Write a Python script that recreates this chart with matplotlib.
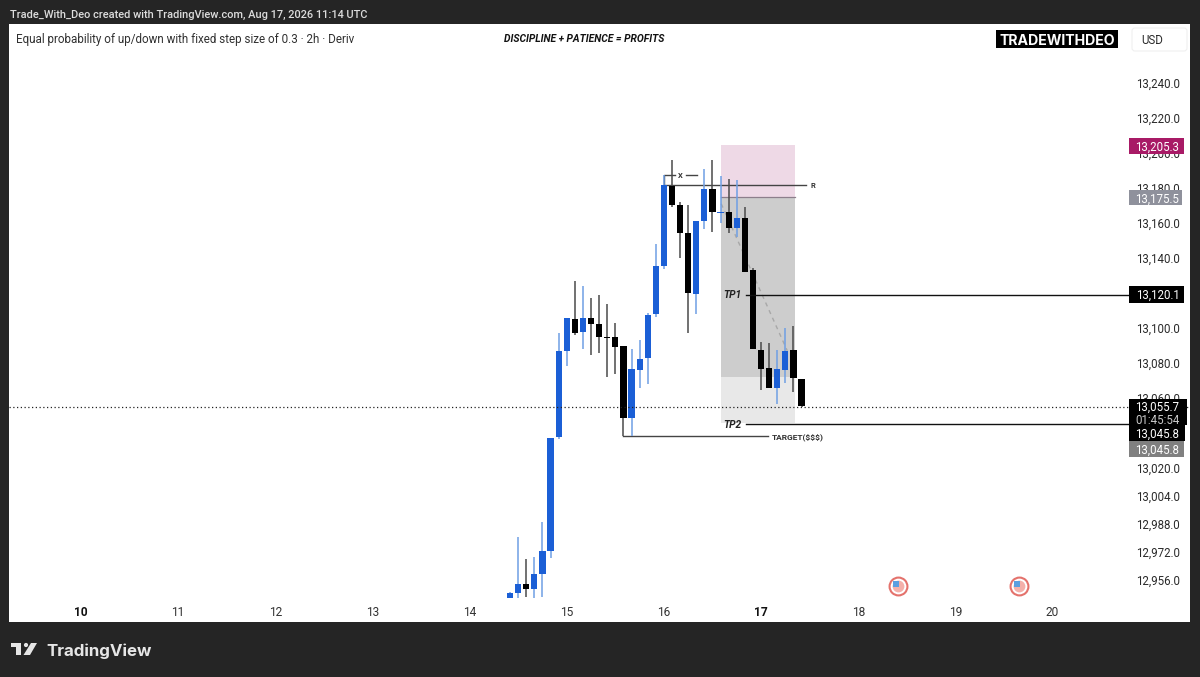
import numpy as np
import matplotlib
matplotlib.use("Agg")
import matplotlib.pyplot as plt
from matplotlib.patches import Rectangle, Polygon, Circle, FancyBboxPatch
from matplotlib.transforms import blended_transform_factory

W, H = 1200, 677
FONT = "Roboto"
BRAND_FONT = "Inter"

# first candle is the 14th at 10:00, one candle every 2 hours
first_candle = 14 + 10 / 24
candle_step = 2 / 24

opens = [12945.9, 12948.4, 12953.5, 12951.0, 12959.4, 12972.7, 13037.7, 13086.9, 13105.1, 13097.5,
         13105.9, 13102.3, 13094.7, 13094.7, 13089.9, 13048.7, 13076.0, 13082.7, 13107.8, 13135.6,
         13181.3, 13170.3, 13154.4, 13119.4, 13161.3, 13179.3, 13165.9, 13166.3, 13157.0, 13162.9,
         13133.1, 13087.4, 13077.3, 13065.7, 13076.0, 13087.4, 13071.0]
highs = [12949.3, 12980.4, 12967.8, 12969.3, 12989.3, 13037.1, 13097.0, 13105.5, 13127.0, 13124.2,
         13117.1, 13118.9, 13113.7, 13102.7, 13089.9, 13087.8, 13093.1, 13108.7, 13148.0, 13187.4,
         13196.0, 13172.2, 13170.3, 13161.3, 13190.7, 13196.0, 13187.0, 13185.0, 13184.6, 13169.0,
         13134.1, 13092.2, 13091.6, 13087.4, 13099.8, 13101.3, 13071.0]
lows = [12945.9, 12945.9, 12946.5, 12945.5, 12946.5, 12968.4, 13036.6, 13078.5, 13096.0, 13088.0,
        13084.6, 13085.5, 13071.8, 13073.5, 13038.3, 13038.3, 13065.9, 13068.0, 13106.5, 13133.5,
        13169.3, 13140.2, 13097.0, 13107.8, 13156.4, 13155.0, 13160.2, 13154.4, 13151.8, 13131.8,
        13087.8, 13064.6, 13065.7, 13056.6, 13068.7, 13063.3, 13055.0]
closes = [12948.4, 12953.5, 12951.0, 12959.4, 12972.7, 13037.0, 13086.9, 13105.5, 13097.0, 13105.9,
          13102.3, 13095.0, 13094.1, 13089.3, 13048.4, 13076.4, 13082.3, 13107.4, 13135.6, 13181.7,
          13170.3, 13154.4, 13119.8, 13161.3, 13179.3, 13166.1, 13166.4, 13157.0, 13162.9, 13132.2,
          13087.8, 13076.4, 13065.7, 13076.4, 13087.0, 13071.3, 13055.7]

price_ticks = [13240, 13220, 13200, 13180, 13160, 13140, 13120, 13100, 13080, 13060,
               13020, 13004, 12988, 12972, 12956]
day_ticks = [10, 11, 12, 13, 14, 15, 16, 17, 18, 19, 20]
bold_days = [10, 17]

# levels of the drawings on the chart
stop_level = 13204.6
entry_level = 13174.7
tp1_level = 13119.0
partial_level = 13071.8
tp2_level = 13045.5
target_level = 13038.3
last_level = 13054.9
r_level = 13181.7
x_level = 13187.4
box_start, box_end = 16.59, 17.345
event_days = [18.41, 19.655]
event_price = 12952.6

BLUE = "#1b5fd6"
BLUE_WICK = "#6f9fe4"
BLACK = "#000000"
BLACK_WICK = "#4a4a4a"
FRAME = "#252525"

fig = plt.figure(figsize=(W / 100, H / 100), dpi=100, facecolor=FRAME)

# price panel: 1.75 px per point, 97.15 px per day
left, right, top, bottom = 9, 1190, 24, 622
ax = fig.add_axes([left / W, 1 - bottom / H, (right - left) / W, (bottom - top) / H])
ax.set_xlim(10 + (left - 81) / 97.15, 10 + (right - 81) / 97.15)
ax.set_ylim(13020 - (bottom - 468) / 1.75, 13020 + (468 - top) / 1.75)
ax.set_facecolor("white")
ax.set_xticks([])
ax.set_yticks([])
for s in ax.spines.values():
    s.set_visible(False)

# overlay in pixel coordinates for the text and labels
ov = fig.add_axes([0, 0, 1, 1], facecolor="none")
ov.set_xlim(0, W)
ov.set_ylim(H, 0)
ov.axis("off")
price_trans = blended_transform_factory(ov.transData, ax.transData)
day_trans = blended_transform_factory(ax.transData, ov.transData)

# position box
box_w = box_end - box_start
ax.add_patch(Rectangle((box_start, entry_level), box_w, stop_level - entry_level, color="#eed9e6", lw=0, zorder=1))
ax.add_patch(Rectangle((box_start, partial_level), box_w, entry_level - partial_level, color="#cdcdcd", lw=0, zorder=1))
ax.add_patch(Rectangle((box_start, tp2_level), box_w, partial_level - tp2_level, color="#e8e8e8", lw=0, zorder=1))
ax.plot([box_start, box_end], [entry_level, entry_level], color="#8d7f8c", lw=0.9, zorder=2)

# candles
xs = first_candle + candle_step * np.arange(len(opens))
for x, o, h, l, c in zip(xs, opens, highs, lows, closes):
    up = c >= o
    ax.vlines(x, l, h, color=BLUE_WICK if up else BLACK_WICK, lw=1.1, zorder=3)
    ax.bar(x, max(abs(c - o), 0.6), bottom=min(o, c), width=0.064, color=BLUE if up else BLACK, lw=0, zorder=4)

# drawings
ax.plot([16.59, 17.27], [13171.0, 13087.0], color="#a8a8a8", lw=1, ls=(0, (3, 3)), zorder=2.5)
ax.axhline(last_level, color="#222222", lw=0.9, ls=(0, (1, 2)), zorder=6)
ax.plot([16.0, 17.465], [r_level, r_level], color="#444444", lw=1, zorder=2)
ax.plot([16.0, 16.0, 16.115], [r_level, x_level, x_level], color="#444444", lw=1, zorder=2)
ax.plot([16.225, 16.34], [x_level, x_level], color="#444444", lw=1, zorder=2)
ax.plot([16.85, 20.8], [tp1_level, tp1_level], color="#111111", lw=1, zorder=6)
ax.plot([16.85, 20.8], [tp2_level - 0.4, tp2_level - 0.4], color="#111111", lw=1, zorder=6)
ax.plot([15.575, 17.075], [target_level, target_level], color="#444444", lw=1, zorder=2)

ax.text(16.17, x_level, "X", fontsize=5.4, fontweight="bold", family=FONT, ha="center", va="center_baseline", color="#333333")
ax.text(17.53, r_level, "R", fontsize=5.4, fontweight="bold", family=FONT, ha="center", va="center_baseline", color="#333333")
ax.text(16.706, tp1_level + 0.5, "TP1", fontsize=7.4, fontweight="bold", style="italic", family=FONT, ha="center", va="center_baseline", color="#222222")
ax.text(16.706, tp2_level - 0.4, "TP2", fontsize=7.4, fontweight="bold", style="italic", family=FONT, ha="center", va="center_baseline", color="#222222")
ax.text(17.38, target_level, "TARGET($$$)", fontsize=6.0, fontweight="bold", family=FONT, ha="center", va="center_baseline", color="#333333")

# US event flags
ax.scatter(event_days, [event_price] * 2, s=165, facecolor="white", edgecolor="#e4726c", lw=1.5, zorder=6)
ax.scatter(event_days, [event_price] * 2, s=72, facecolor="#f4b0aa", lw=0, zorder=7)
ax.scatter([d - 0.018 for d in event_days], [event_price + 0.9] * 2, s=22, marker="s", facecolor="#5a9fe0", lw=0, zorder=8)

# price scale
for p in price_ticks:
    ov.text(1158, p, f"{p:,.1f}", transform=price_trans, fontsize=8.3, family=FONT, ha="center", va="center_baseline", color="#2a2a2a", zorder=1)
ov.add_patch(FancyBboxPatch((1132, 28), 55, 23, boxstyle="round,pad=0,rounding_size=3", fc="white", ec="#f0f0f0", lw=0.8))
ov.text(1152, 39.5, "USD", fontsize=8.3, family=FONT, ha="center", va="center_baseline", color="#2a2a2a")

# labels: x, y top, width, height, colour, text, text y
label_boxes = [
    (1129, 138, 55, 16, "#a81a66", "13,205.3", 145.5),
    (1129, 190, 53, 15, "#8f919c", "13,175.5", 197.5),
    (1129, 286, 55, 17, "#000000", "13,120.1", 294),
    (1129, 399, 58, 26, "#000000", "13,055.7", 405.7),
    (1129, 425, 56, 16, "#000000", "13,045.8", 433),
    (1129, 441, 55, 16, "#808080", "13,045.8", 449),
]
for x0, y0, w, h, col, txt, ty in label_boxes:
    ov.add_patch(Rectangle((x0, y0), w, h, fc=col, lw=0, zorder=3))
    ov.text(x0 + 28.5, ty, txt, fontsize=8.3, family=FONT, ha="center", va="center_baseline", color="white", zorder=4)
ov.text(1157.5, 418.5, "01:45:54", fontsize=8.3, family=FONT, ha="center", va="center_baseline", color="#c8c8c8", zorder=4)

# time scale
for d in day_ticks:
    b = d in bold_days
    ov.text(d, 611, str(d), transform=day_trans, fontsize=8.6, family=FONT, ha="center", va="center_baseline",
            fontweight="bold" if b else "normal", color="#111111" if b else "#333333")

# header
ov.text(10, 14, "Trade_With_Deo created with TradingView.com, Aug 17, 2026 11:14 UTC", fontsize=7.95,
        family=FONT, fontweight="medium", va="center_baseline", color="#dddddd")
ov.text(16, 38, "Equal probability of up/down with fixed step size of 0.3 · 2h · Deriv", fontsize=8.35,
        family=FONT, va="center_baseline", color="#303030")
ov.text(584.5, 38, "DISCIPLINE + PATIENCE = PROFITS", fontsize=7.4, family=FONT, fontweight="bold",
        style="italic", ha="center", va="center_baseline", color="#111111")
ov.add_patch(Rectangle((996, 30), 122, 18, fc="black", lw=0))
ov.text(1057, 39.3, "TRADEWITHDEO", fontsize=10.2, family=BRAND_FONT, fontweight="bold", ha="center", va="center_baseline", color="white")

# TradingView logo
logo = "#e6e6e6"
ov.add_patch(Polygon([(11, 643), (21, 643), (21, 655), (16, 655), (16, 647), (11, 647)], fc=logo, lw=0))
ov.add_patch(Circle((26, 645), 2.1, fc=logo, lw=0))
ov.add_patch(Polygon([(31, 643), (37, 643), (30, 655), (23.5, 655)], fc=logo, lw=0))
ov.text(46, 650, "TradingView", fontsize=12.2, family=BRAND_FONT, fontweight="bold", va="center_baseline", color=logo)

fig.savefig("out.png", dpi=100, facecolor=FRAME)
